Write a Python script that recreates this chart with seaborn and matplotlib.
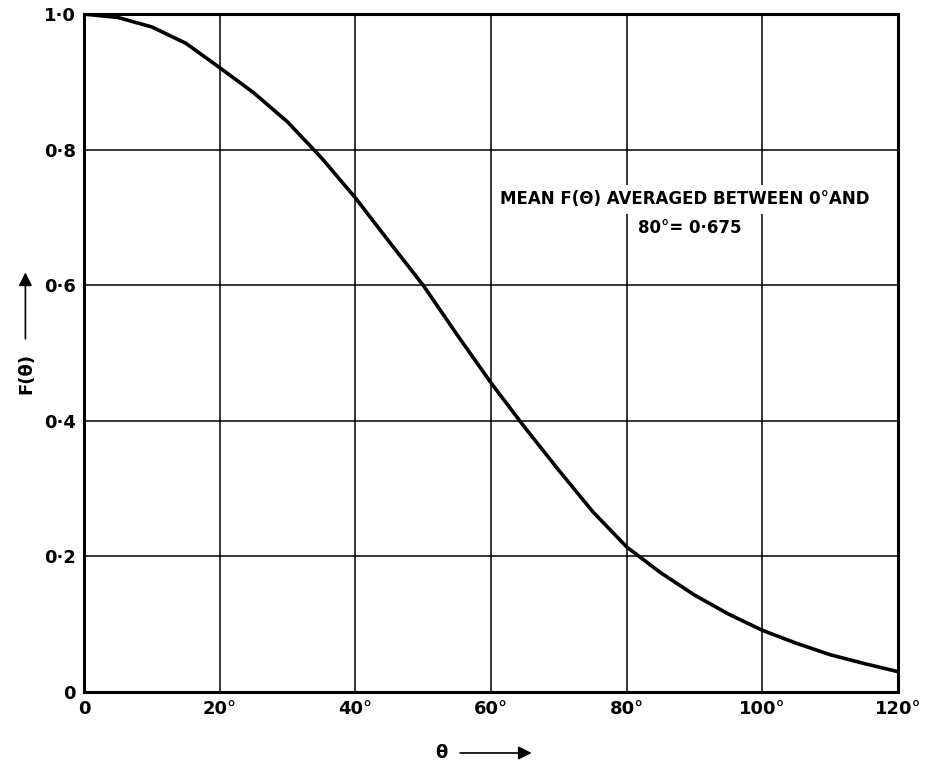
import matplotlib
matplotlib.use("Agg")
import matplotlib.pyplot as plt
import seaborn as sns
import pandas as pd

# curve
theta = [0, 5, 10, 15, 20, 25, 30, 35, 40, 45, 50, 55, 60, 65, 70, 75,
         80, 85, 90, 95, 100, 105, 110, 115, 120]
f_theta = [1.0, 0.995, 0.981, 0.957, 0.921, 0.884, 0.841, 0.788, 0.729, 0.664,
           0.60, 0.527, 0.456, 0.39, 0.327, 0.266, 0.214, 0.176, 0.143, 0.115,
           0.091, 0.072, 0.055, 0.042, 0.030]

x_ticks = [0, 20, 40, 60, 80, 100, 120]
x_labels = ["0", "20°", "40°", "60°", "80°", "100°", "120°"]
y_ticks = [0, 0.2, 0.4, 0.6, 0.8, 1.0]
y_labels = ["0", "0·2", "0·4", "0·6", "0·8", "1·0"]

note_1 = "MEAN F(Θ) AVERAGED BETWEEN 0°AND"
note_2 = "80°= 0·675"

df = pd.DataFrame({"theta": theta, "F": f_theta})

sns.set_style("white")
plt.rcParams["font.family"] = ["DejaVu Sans"]
plt.rcParams["text.color"] = "black"

fig = plt.figure(figsize=(9.41, 7.66), dpi=100)
ax = fig.add_axes([0.0893, 0.0966, 0.865, 0.885])

sns.lineplot(data=df, x="theta", y="F", color="black", linewidth=2.6, ax=ax,
             solid_joinstyle="round")

ax.set_xlim(0, 120)
ax.set_ylim(0, 1.0)
ax.set_xticks(x_ticks)
ax.set_xticklabels(x_labels, fontsize=13, fontweight="bold", color="black")
ax.set_yticks(y_ticks)
ax.set_yticklabels(y_labels, fontsize=13, fontweight="bold", color="black")
ax.tick_params(length=0, pad=6)
ax.grid(True, color="black", linewidth=1.1)
for s in ax.spines.values():
    s.set_color("black")
    s.set_linewidth(2.2)

ax.set_xlabel("")
ax.set_ylabel("")

# note sits over the grid, first line blanks the lines behind it
ax.text(0.738, 0.727, note_1, transform=ax.transAxes, ha="center", va="center",
        fontsize=12, fontweight="bold", color="black",
        bbox=dict(facecolor="white", edgecolor="none", pad=4))
ax.text(0.744, 0.684, note_2, transform=ax.transAxes, ha="center", va="center",
        fontsize=12, fontweight="bold", color="black")

# axis labels with arrows
fig.text(0.469, 0.017, "θ", fontsize=13, fontweight="bold", ha="center", va="center")
fig.add_artist(matplotlib.patches.FancyArrowPatch(
    (0.486, 0.017), (0.568, 0.017), transform=fig.transFigure,
    arrowstyle="-|>", mutation_scale=20, color="black", linewidth=1.2))
fig.text(0.028, 0.512, "F(θ)", fontsize=13, fontweight="bold", rotation=90,
         ha="center", va="center")
fig.add_artist(matplotlib.patches.FancyArrowPatch(
    (0.027, 0.554), (0.027, 0.648), transform=fig.transFigure,
    arrowstyle="-|>", mutation_scale=20, color="black", linewidth=1.2))

fig.savefig("out.png", dpi=100)
